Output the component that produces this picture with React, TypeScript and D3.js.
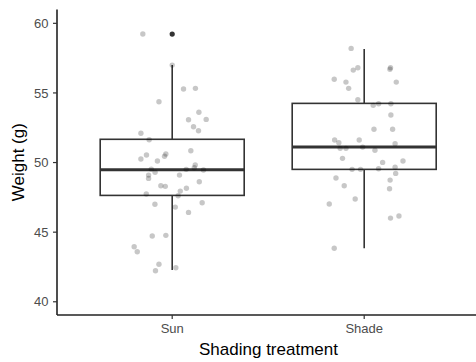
import React from 'react';
import * as d3 from 'd3';

// Treatments on the x axis
const categories = ['Sun', 'Shade'];

// Jittered observations: weight (g) and horizontal jitter (in category units)
const sunWeights = [
  59.23, 57.0, 55.28, 55.33, 54.37, 53.61, 53.07, 53.1, 52.57, 52.28, 52.1, 51.64,
  50.85, 50.54, 50.25, 50.11, 50.61, 50.45, 49.53, 49.3, 49.1, 48.86, 49.1, 49.51,
  49.82, 49.63, 49.46, 48.62, 48.33, 48.29, 47.95, 48.15, 47.61, 47.74, 47.0, 46.8,
  46.42, 47.11, 44.72, 44.77, 43.95, 43.59, 42.69, 42.23, 42.44,
];
const sunJitter = [
  -0.153, 0.0, 0.059, 0.121, -0.069, 0.139, 0.085, 0.177, 0.111, 0.137, -0.163, -0.12,
  0.097, -0.134, -0.163, -0.077, -0.033, -0.04, -0.109, -0.089, -0.123, -0.123, 0.038, 0.073,
  0.12, 0.115, 0.163, 0.141, -0.059, -0.036, 0.042, 0.074, 0.031, -0.135, -0.09, 0.016,
  0.085, 0.156, -0.104, -0.033, -0.198, -0.182, -0.069, -0.087, 0.019,
];
const shadeWeights = [
  58.2, 56.64, 56.81, 56.81, 56.7, 55.98, 55.78, 55.33, 55.78, 54.51, 54.11, 54.22,
  54.22, 53.41, 52.39, 52.39, 51.62, 51.42, 51.62, 51.02, 51.02, 51.11, 50.88, 51.35,
  50.3, 50.01, 50.11, 49.51, 49.51, 49.55, 49.66, 49.22, 48.89, 48.33, 48.74, 48.12,
  47.38, 47.02, 46.01, 46.16, 43.84,
];
const shadeJitter = [
  -0.068, -0.057, -0.033, 0.137, 0.134, -0.156, -0.095, -0.081, 0.167, -0.033, 0.047, 0.075,
  0.139, 0.139, 0.051, 0.148, -0.154, -0.132, -0.026, -0.125, -0.095, -0.008, 0.056, 0.161,
  -0.113, 0.096, 0.202, -0.063, -0.019, 0.075, 0.161, 0.164, -0.147, -0.104, 0.135, 0.132,
  -0.047, -0.182, 0.137, 0.181, -0.156,
];

// Box summaries per treatment (Sun, Shade)
const whiskerLow = [42.28, 43.84];
const q1 = [47.64, 49.51];
const medians = [49.48, 51.11];
const q3 = [51.67, 54.25];
const whiskerHigh = [57.0, 58.15];
const outliers = [[59.23], []];

const yTicks = [40, 45, 50, 55, 60];

const width = 476;
const height = 362;
const margin = { top: 9.4, right: 0, bottom: 47, left: 57 };

const App: React.FC = () => {
  const innerBottom = height - margin.bottom;

  // ggplot-style discrete axis: positions 1..n with 0.6 expansion each side
  const xScale = d3
    .scaleLinear()
    .domain([0.4, categories.length + 0.6])
    .range([margin.left, margin.left + 2.2 * 192]);

  const yScale = d3
    .scaleLinear()
    .domain([39.05, 61])
    .range([innerBottom, margin.top]);

  const boxHalf = 0.375;
  const font = '"Liberation Sans", Arial, sans-serif';

  const groups = [
    { weights: sunWeights, jitter: sunJitter },
    { weights: shadeWeights, jitter: shadeJitter },
  ];

  return (
    <svg width={width} height={height} style={{ position: 'absolute', left: 0, top: 0 }}>
      <rect width={width} height={height} fill="white" />

      {/* Boxes */}
      {categories.map((c, i) => {
        const cx = xScale(i + 1);
        const x0 = xScale(i + 1 - boxHalf);
        const x1 = xScale(i + 1 + boxHalf);
        return (
          <g key={c}>
            <line x1={cx} x2={cx} y1={yScale(q3[i])} y2={yScale(whiskerHigh[i])} stroke="#333" strokeWidth={1.6} />
            <line x1={cx} x2={cx} y1={yScale(q1[i])} y2={yScale(whiskerLow[i])} stroke="#333" strokeWidth={1.6} />
            <rect
              x={x0}
              y={yScale(q3[i])}
              width={x1 - x0}
              height={yScale(q1[i]) - yScale(q3[i])}
              fill="white"
              stroke="#333"
              strokeWidth={1.6}
            />
            <line x1={x0} x2={x1} y1={yScale(medians[i])} y2={yScale(medians[i])} stroke="#333" strokeWidth={3} />
            {outliers[i].map((o, k) => (
              <circle key={k} cx={cx} cy={yScale(o)} r={2.6} fill="#333" />
            ))}
          </g>
        );
      })}

      {/* Jittered points */}
      {groups.map((g, i) =>
        g.weights.map((w, k) => (
          <circle
            key={`${i}-${k}`}
            cx={xScale(i + 1 + g.jitter[k])}
            cy={yScale(w)}
            r={2.7}
            fill="black"
            fillOpacity={0.22}
          />
        ))
      )}

      {/* Y axis */}
      <line x1={margin.left} x2={margin.left} y1={margin.top} y2={innerBottom} stroke="#222" strokeWidth={1.6} />
      {yTicks.map(t => (
        <g key={t}>
          <line x1={margin.left - 4} x2={margin.left} y1={yScale(t)} y2={yScale(t)} stroke="#333" strokeWidth={1.2} />
          <text
            x={margin.left - 8.5}
            y={yScale(t)}
            dy="0.36em"
            textAnchor="end"
            fontFamily={font}
            fontSize={13}
            fill="#4d4d4d"
          >
            {t}
          </text>
        </g>
      ))}

      {/* X axis */}
      <line x1={margin.left} x2={width} y1={innerBottom} y2={innerBottom} stroke="#222" strokeWidth={1.6} />
      {categories.map((c, i) => (
        <g key={c}>
          <line x1={xScale(i + 1)} x2={xScale(i + 1)} y1={innerBottom} y2={innerBottom + 4} stroke="#333" strokeWidth={1.2} />
          <text
            x={xScale(i + 1)}
            y={innerBottom + 17.7}
            textAnchor="middle"
            fontFamily={font}
            fontSize={13}
            fill="#4d4d4d"
          >
            {c}
          </text>
        </g>
      ))}

      {/* Axis titles */}
      <text
        x={268.5}
        y={355}
        textAnchor="middle"
        fontFamily={font}
        fontSize={17}
        fill="black"
      >
        Shading treatment
      </text>
      <text
        transform={`translate(23.5,${(margin.top + innerBottom) / 2}) rotate(-90)`}
        textAnchor="middle"
        fontFamily={font}
        fontSize={17}
        fill="black"
      >
        Weight (g)
      </text>
    </svg>
  );
};

export default App;
